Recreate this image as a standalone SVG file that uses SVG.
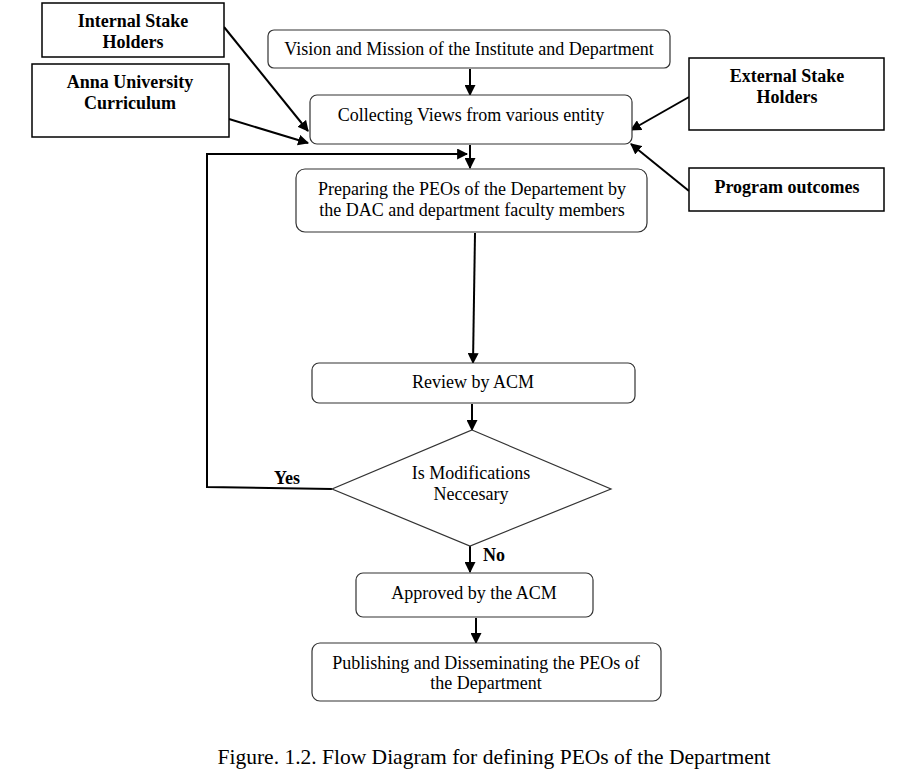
<svg xmlns="http://www.w3.org/2000/svg" width="905" height="774" viewBox="0 0 905 774">
<style>
.sq{fill:#fff;stroke:#000;stroke-width:1.5}
.rd{fill:#fff;stroke:#333;stroke-width:1.2}
.t{font-family:"Liberation Serif","Times New Roman",serif;font-size:18px;fill:#000;text-anchor:middle}
.b{font-weight:bold}
.c{fill:none;stroke:#000;stroke-width:2}
</style>
<defs>
<marker id="ah" viewBox="0 0 10 10" refX="9" refY="5" markerWidth="5.5" markerHeight="5.5" orient="auto" markerUnits="strokeWidth">
<path d="M0,0 L10,5 L0,10 z" fill="#000"/>
</marker>
</defs>
<rect width="905" height="774" fill="#fff"/>
<g id="connectors">
<line class="c" x1="224" y1="27" x2="308" y2="131" marker-end="url(#ah)"/>
<line class="c" x1="229" y1="119" x2="308" y2="143" marker-end="url(#ah)"/>
<line class="c" x1="689" y1="97" x2="631" y2="130" marker-end="url(#ah)"/>
<line class="c" x1="689" y1="191" x2="631" y2="144" marker-end="url(#ah)"/>
<line class="c" x1="470" y1="69" x2="470" y2="95" marker-end="url(#ah)"/>
<line class="c" x1="470" y1="145" x2="470" y2="168" marker-end="url(#ah)"/>
<polyline class="c" points="332,489 207,487 207,154 467,154" marker-end="url(#ah)"/>
<line class="c" x1="475" y1="233" x2="473" y2="363" marker-end="url(#ah)"/>
<line class="c" x1="472" y1="404" x2="472" y2="430" marker-end="url(#ah)"/>
<line class="c" x1="470" y1="546" x2="470" y2="572" marker-end="url(#ah)"/>
<line class="c" x1="476" y1="618" x2="476" y2="643" marker-end="url(#ah)"/>
</g>
<g id="internal">
<rect class="sq" x="42" y="3" width="182" height="54"/>
<text class="t b" x="133" y="27">Internal Stake</text>
<text class="t b" x="133" y="48">Holders</text>
</g>
<g id="anna">
<rect class="sq" x="32" y="64" width="197" height="73"/>
<text class="t b" x="130" y="88">Anna University</text>
<text class="t b" x="130" y="109">Curriculum</text>
</g>
<g id="vision">
<rect class="rd" x="268" y="30" width="402" height="38" rx="6"/>
<text class="t" x="469" y="55">Vision and Mission of the Institute and Department</text>
</g>
<g id="collecting">
<rect class="rd" x="310" y="95" width="322" height="49" rx="7"/>
<text class="t" x="471" y="121">Collecting Views from various entity</text>
</g>
<g id="external">
<rect class="sq" x="689" y="58" width="195" height="72"/>
<text class="t b" x="787" y="82">External Stake</text>
<text class="t b" x="787" y="103">Holders</text>
</g>
<g id="program">
<rect class="sq" x="689" y="168" width="195" height="43"/>
<text class="t b" x="787" y="193">Program outcomes</text>
</g>
<g id="preparing">
<rect class="rd" x="296" y="169" width="351" height="63" rx="9"/>
<text class="t" x="472" y="195">Preparing the PEOs of the Departement by</text>
<text class="t" x="472" y="216">the DAC and department faculty members</text>
</g>
<g id="review">
<rect class="rd" x="312" y="363" width="323" height="40" rx="7"/>
<text class="t" x="473" y="388">Review by ACM</text>
</g>
<g id="decision">
<polygon class="rd" points="472,430 611,489 470,546 332,489"/>
<text class="t" x="471" y="479">Is Modifications</text>
<text class="t" x="471" y="500">Neccesary</text>
</g>
<g id="approved">
<rect class="rd" x="356" y="573" width="237" height="44" rx="7"/>
<text class="t" x="474" y="599">Approved by the ACM</text>
</g>
<g id="publishing">
<rect class="rd" x="312" y="643" width="349" height="58" rx="8"/>
<text class="t" x="486" y="669">Publishing and Disseminating the PEOs of</text>
<text class="t" x="486" y="689">the Department</text>
</g>
<g id="labels">
<text class="t b" x="287" y="484">Yes</text>
<text class="t b" x="494" y="561">No</text>
<text class="t" x="494" y="764" style="font-size:21.5px">Figure. 1.2. Flow Diagram for defining PEOs of the Department</text>
</g>
</svg>
